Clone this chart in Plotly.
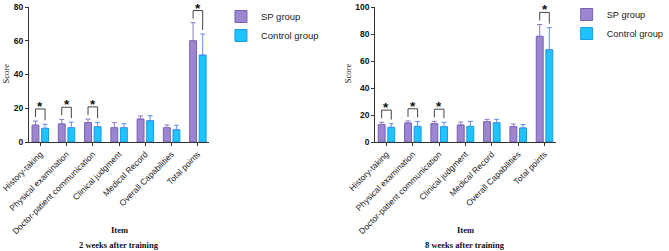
import plotly.graph_objects as go

categories = ["History-taking", "Physical examination", "Doctor-patient communication",
              "Clinical judgment", "Medical Record", "Overall Capabilities", "Total points"]

# 2 weeks after training (mean, upper error)
sp_2w = [10.0, 10.7, 11.5, 8.5, 13.6, 8.5, 60.0]
sp_2w_err = [2.4, 2.7, 2.1, 3.0, 1.8, 1.6, 10.7]
ctrl_2w = [8.1, 8.5, 9.1, 8.5, 12.6, 7.3, 51.5]
ctrl_2w_err = [2.4, 3.3, 2.5, 2.4, 3.0, 2.6, 12.5]

# 8 weeks after training
sp_8w = [12.9, 14.1, 13.6, 12.6, 15.1, 11.4, 78.3]
sp_8w_err = [1.7, 1.5, 1.7, 2.2, 1.7, 1.9, 8.7]
ctrl_8w = [10.9, 11.6, 11.4, 11.6, 14.3, 10.4, 68.4]
ctrl_8w_err = [2.7, 3.5, 3.2, 3.7, 2.5, 2.5, 16.3]

significant = [True, True, True, False, False, False, True]

y_max_2w = 80
y_max_8w = 100
y_ticks_2w = [0, 20, 40, 60, 80]
y_ticks_8w = [0, 20, 40, 60, 80, 100]

SP_FILL = "#9D86D0"
SP_LINE = "#7A60B4"
SP_ERR = "#8D74C6"
C_FILL = "#1EC3FF"
C_LINE = "#1A9BE6"
C_ERR = "#5C8EF2"

BARGAP = 0.27
W, H = 669, 251

def px_x(p):
    return p / W

def px_y(p):
    return 1 - p / H

fig = go.Figure()

panels = [
    dict(sp=sp_2w, spe=sp_2w_err, c=ctrl_2w, ce=ctrl_2w_err, ymax=y_max_2w, ticks=y_ticks_2w,
         xa="x", ya="y", legend="legend", dom=(29.5, 213), title="2 weeks after training"),
    dict(sp=sp_8w, spe=sp_8w_err, c=ctrl_8w, ce=ctrl_8w_err, ymax=y_max_8w, ticks=y_ticks_8w,
         xa="x2", ya="y2", legend="legend2", dom=(382, 566), title="8 weeks after training"),
]

shapes = []
annotations = []
for k, p in enumerate(panels):
    xs = list(range(len(categories)))
    fig.add_trace(go.Bar(
        x=xs, y=p["sp"], name="SP group", xaxis=p["xa"], yaxis=p["ya"], legend=p["legend"],
        marker=dict(color=SP_FILL, line=dict(color=SP_LINE, width=1)),
        error_y=dict(type="data", symmetric=False, array=p["spe"], arrayminus=[0] * 7,
                     color=SP_ERR, thickness=1, width=2.5),
    ))
    fig.add_trace(go.Bar(
        x=xs, y=p["c"], name="Control group", xaxis=p["xa"], yaxis=p["ya"], legend=p["legend"],
        marker=dict(color=C_FILL, line=dict(color=C_LINE, width=1)),
        error_y=dict(type="data", symmetric=False, array=p["ce"], arrayminus=[0] * 7,
                     color=C_ERR, thickness=1, width=2.5),
    ))
    slot = (1 - BARGAP) / 2
    gap = 0.09 * p["ymax"]
    leg = 0.03 * p["ymax"]
    for i, sig in enumerate(significant):
        if not sig:
            continue
        t1 = p["sp"][i] + p["spe"][i]
        t2 = p["c"][i] + p["ce"][i]
        top = max(t1, t2) + gap
        x1 = i - slot / 2
        x2 = i + slot / 2
        shapes.append(dict(type="path", xref=p["xa"], yref=p["ya"],
                           path=f"M {x1} {t1 + leg} L {x1} {top} L {x2} {top} L {x2} {t2 + leg}",
                           line=dict(color="#444444", width=1)))
        annotations.append(dict(x=i, y=top, xref=p["xa"], yref=p["ya"], text="<b>*</b>",
                                showarrow=False, yanchor="bottom", yshift=-7,
                                font=dict(family="Arial, Liberation Sans", size=13.5, color="#111")))
    cx = (p["dom"][0] + p["dom"][1]) / 2
    annotations.append(dict(x=px_x(cx), y=px_y(230), xref="paper", yref="paper", text="<b>Item</b>",
                            xanchor="center", yanchor="middle", showarrow=False,
                            font=dict(family="Liberation Serif, Times New Roman", size=8.5, color="#111")))
    annotations.append(dict(x=px_x(cx), y=px_y(245), xref="paper", yref="paper", text=f"<b>{p['title']}</b>",
                            xanchor="center", yanchor="middle", showarrow=False,
                            font=dict(family="Liberation Serif, Times New Roman", size=8.5, color="#111")))
    sx = 6.5 if k == 0 else 354.5
    annotations.append(dict(x=px_x(sx), y=px_y(73), xref="paper", yref="paper", text="Score", textangle=-90,
                            xanchor="center", yanchor="middle", showarrow=False,
                            font=dict(family="Liberation Serif, Times New Roman", size=8.5, color="#111")))

axis_common = dict(showline=True, linecolor="#333333", linewidth=1, ticks="outside", ticklen=3,
                   tickcolor="#333333", showgrid=False, zeroline=False, automargin=False)

fig.update_layout(
    width=W, height=H, autosize=False,
    margin=dict(l=0, r=0, t=0, b=0),
    paper_bgcolor="white", plot_bgcolor="white",
    barmode="group", bargap=BARGAP, bargroupgap=0.28,
    xaxis=dict(domain=[px_x(29.5), px_x(213)], range=[-0.43, 6.43], tickmode="array",
               tickvals=list(range(7)), ticktext=categories, tickangle=-45,
               tickfont=dict(family="Arial, Liberation Sans", size=8.5, color="#222"), **axis_common),
    yaxis=dict(domain=[px_y(142), px_y(7)], range=[0, y_max_2w], tickvals=y_ticks_2w,
               tickfont=dict(family="Arial, Liberation Sans", size=8.5, color="#111", weight="bold"),
               anchor="x", **axis_common),
    xaxis2=dict(domain=[px_x(382), px_x(566)], range=[-0.43, 6.43], tickmode="array",
                tickvals=list(range(7)), ticktext=categories, tickangle=-45, anchor="y2",
                tickfont=dict(family="Arial, Liberation Sans", size=8.5, color="#222"), **axis_common),
    yaxis2=dict(domain=[px_y(142), px_y(7)], range=[0, y_max_8w], tickvals=y_ticks_8w,
                tickfont=dict(family="Arial, Liberation Sans", size=8.5, color="#111", weight="bold"),
                anchor="x2", **axis_common),
    legend=dict(x=px_x(225), y=px_y(2), xanchor="left", yanchor="top",
                font=dict(family="Arial, Liberation Sans", size=9.5, color="#222"), bgcolor="rgba(0,0,0,0)"),
    legend2=dict(x=px_x(577), y=px_y(0), xanchor="left", yanchor="top",
                 font=dict(family="Arial, Liberation Sans", size=9.3, color="#222"), bgcolor="rgba(0,0,0,0)"),
    shapes=shapes, annotations=annotations,
)

fig.write_html("out.html", config={"displayModeBar": False},
               post_script="document.body.style.margin='0px';document.body.style.overflow='hidden';")
